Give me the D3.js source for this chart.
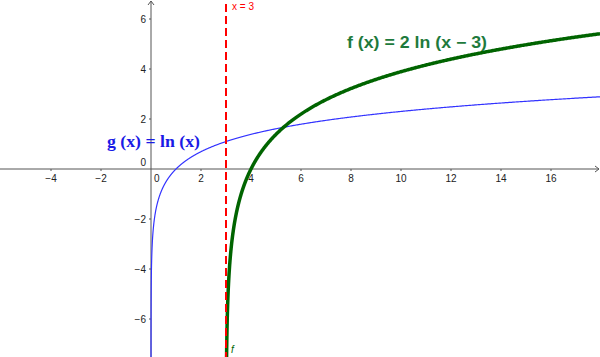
<!DOCTYPE html>
<html><head><meta charset="utf-8">
<script src="https://cdn.jsdelivr.net/npm/d3@7"></script>
<style>body{margin:0;background:#fff}svg{display:block}</style>
</head><body><svg id="c" width="600" height="357"></svg>
<script>
const xTicks = [-4,-2,2,4,6,8,10,12,14,16];
const yTicks = [-6,-4,-2,2,4,6];
const asymptoteX = 3;
const gLabel = "g (x) = ln (x)";
const fLabel = "f (x) = 2 ln (x − 3)";
const xDomain = [-6.04, 17.96];
const yDomain = [-7.52, 6.76];

const svg = d3.select("#c");
const W = 600, H = 357;
const x = d3.scaleLinear().domain(xDomain).range([0, W]);
const y = d3.scaleLinear().domain(yDomain).range([H, 0]);
const axisCol = "#555";

const N = 1200;
function sample(fn, x0, x1) {
  const pts = [];
  for (let i = 0; i <= N; i++) {
    const t = i / N;
    const xv = x0 + (x1 - x0) * Math.pow(t, 4);
    pts.push([xv, fn(xv)]);
  }
  return pts;
}
const line = d3.line().x(d => x(d[0])).y(d => y(d[1]));
const gPts = sample(v => Math.log(v), Math.exp(yDomain[0] - 0.5), xDomain[1]);
const fPts = sample(v => 2 * Math.log(v - 3), 3 + Math.exp((yDomain[0] - 0.5) / 2), xDomain[1]);

const ax = svg.append("g");
ax.append("line").attr("x1", 0).attr("x2", W - 1).attr("y1", y(0)).attr("y2", y(0)).attr("stroke", axisCol).attr("stroke-width", 1);
ax.append("line").attr("x1", x(0)).attr("x2", x(0)).attr("y1", H).attr("y2", 1).attr("stroke", axisCol).attr("stroke-width", 1);
ax.append("path").attr("d", `M${W-5},${y(0)-3}L${W-1},${y(0)}L${W-5},${y(0)+3}`).attr("fill", "none").attr("stroke", axisCol);
ax.append("path").attr("d", `M${x(0)-3},${5}L${x(0)},${1}L${x(0)+3},${5}`).attr("fill", "none").attr("stroke", axisCol);

const fontTick = "10px 'Liberation Sans', Arial, sans-serif";
xTicks.forEach(t => {
  ax.append("line").attr("x1", x(t)).attr("x2", x(t)).attr("y1", y(0)).attr("y2", y(0) + 2).attr("stroke", axisCol);
  ax.append("text").attr("x", x(t)).attr("y", y(0) + 13).attr("text-anchor", "middle")
    .style("font", fontTick).attr("fill", "#222").text(t < 0 ? "−" + Math.abs(t) : t);
});
yTicks.forEach(t => {
  ax.append("line").attr("x1", x(0) - 2).attr("x2", x(0)).attr("y1", y(t)).attr("y2", y(t)).attr("stroke", axisCol);
  ax.append("text").attr("x", x(0) - 5).attr("y", y(t) + 3.5).attr("text-anchor", "end")
    .style("font", fontTick).attr("fill", "#222").text(t < 0 ? "−" + Math.abs(t) : t);
});
ax.append("text").attr("x", x(0) - 5).attr("y", y(0) - 3).attr("text-anchor", "end").style("font", fontTick).attr("fill", "#222").text("0");
ax.append("text").attr("x", x(0) + 3).attr("y", y(0) + 13).attr("text-anchor", "start").style("font", fontTick).attr("fill", "#222").text("0");

svg.append("path").attr("d", line(gPts)).attr("fill", "none").attr("stroke", "#3333ff").attr("stroke-width", 1.2);
svg.append("path").attr("d", line(fPts)).attr("fill", "none").attr("stroke", "#006400").attr("stroke-width", 3.5);

svg.append("line").attr("x1", x(asymptoteX)).attr("x2", x(asymptoteX)).attr("y1", 4).attr("y2", H)
  .attr("stroke", "#ff0000").attr("stroke-width", 2).attr("stroke-dasharray", "8,4");
svg.append("text").attr("x", x(asymptoteX) + 6).attr("y", 10).style("font", "10px 'Liberation Sans', Arial, sans-serif")
  .attr("fill", "#ff0000").text("x = " + asymptoteX);

svg.append("text").attr("x", 107).attr("y", 147).style("font", "bold 16px 'Liberation Serif', serif")
  .attr("fill", "#1a1ae6").attr("textLength", 93).attr("lengthAdjust", "spacingAndGlyphs").text(gLabel);
svg.append("text").attr("x", 347).attr("y", 48).style("font", "bold 16px 'Liberation Sans', sans-serif")
  .attr("fill", "#1e7a3c").attr("textLength", 140).attr("lengthAdjust", "spacingAndGlyphs").text(fLabel);
svg.append("text").attr("x", x(asymptoteX) + 5).attr("y", 353).style("font", "italic 10px 'Liberation Sans', sans-serif")
  .attr("fill", "#006400").text("f");
</script></body></html>
